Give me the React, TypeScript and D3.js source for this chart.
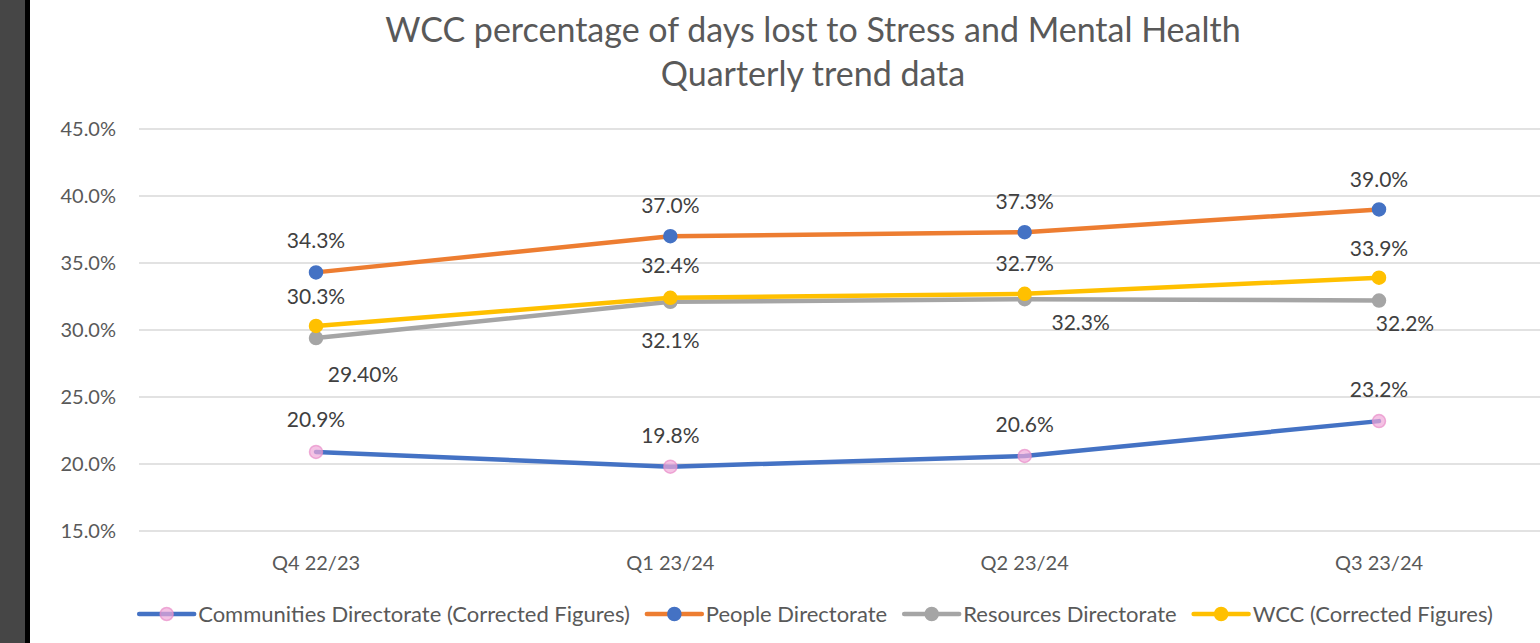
import { useEffect, useRef } from 'react'
import * as d3 from 'd3'

const quarters = ['Q4 22/23', 'Q1 23/24', 'Q2 23/24', 'Q3 23/24']
const communities = [20.9, 19.8, 20.6, 23.2]
const people = [34.3, 37.0, 37.3, 39.0]
const resources = [29.4, 32.1, 32.3, 32.2]
const wcc = [30.3, 32.4, 32.7, 33.9]
const resourcesLabels = ['29.40%', '32.1%', '32.3%', '32.2%']
const yTicks = [15, 20, 25, 30, 35, 40, 45]

const FONT = 'Lato, "Open Sans", sans-serif'

type Series = {
  name: string
  values: number[]
  labels: string[]
  line: string
  marker: string
  markerStroke: string
  markerOpacity: number
  // label offsets relative to the point (dx, dy)
  offsets: [number, number][]
}

export default function App() {
  const ref = useRef<SVGSVGElement>(null)

  useEffect(() => {
    const W = 1540
    const H = 643
    const svg = d3.select(ref.current)
    svg.selectAll('*').remove()

    svg.append('rect').attr('width', W).attr('height', H).attr('fill', '#fff')
    svg.append('rect').attr('width', 25).attr('height', H).attr('fill', '#464646')
    svg.append('rect').attr('x', 25).attr('width', 5).attr('height', H).attr('fill', '#000')

    const x = d3.scalePoint<string>()
      .domain(quarters)
      .range([316, 1379])
    const left = 139
    const right = 1560

    const y = d3.scaleLinear().domain([15, 45]).range([531, 129])

    // title
    const title = svg.append('text')
      .attr('text-anchor', 'middle')
      .attr('fill', '#595959')
      .style('font-family', FONT)
      .style('font-size', '34px')
    title.append('tspan').attr('x', 813).attr('y', 42).text('WCC percentage of days lost to Stress and Mental Health')
    title.append('tspan').attr('x', 813).attr('y', 86).text('Quarterly trend data')

    // gridlines and y labels
    svg.append('g').selectAll('line').data(yTicks).enter().append('line')
      .attr('x1', left).attr('x2', right)
      .attr('y1', d => y(d)).attr('y2', d => y(d))
      .attr('stroke', '#d9d9d9').attr('stroke-width', 1.5)

    svg.append('g').selectAll('text').data(yTicks).enter().append('text')
      .attr('x', 116).attr('y', d => y(d))
      .attr('dy', '0.35em')
      .attr('text-anchor', 'end')
      .attr('fill', '#595959')
      .style('font-family', FONT)
      .style('font-size', '20px')
      .text(d => d3.format('.1f')(d) + '%')

    svg.append('g').selectAll('text').data(quarters).enter().append('text')
      .attr('x', d => x(d)!).attr('y', 563)
      .attr('dy', '0.35em')
      .attr('text-anchor', 'middle')
      .attr('fill', '#595959')
      .style('font-family', FONT)
      .style('font-size', '20px')
      .text(d => d)

    const series: Series[] = [
      {
        name: 'Communities Directorate (Corrected Figures)', values: communities,
        labels: communities.map(v => v.toFixed(1) + '%'),
        line: '#4472C4', marker: '#f0a8d8', markerStroke: '#e88cc8', markerOpacity: 0.7,
        offsets: [[0, -32], [0, -31], [0, -31], [0, -31]],
      },
      {
        name: 'People Directorate', values: people,
        labels: people.map(v => v.toFixed(1) + '%'),
        line: '#ED7D31', marker: '#4472C4', markerStroke: '#4472C4', markerOpacity: 1,
        offsets: [[0, -32], [0, -31], [0, -31], [0, -30]],
      },
      {
        name: 'Resources Directorate', values: resources,
        labels: resourcesLabels,
        line: '#A5A5A5', marker: '#A5A5A5', markerStroke: '#A5A5A5', markerOpacity: 1,
        offsets: [[47, 37], [0, 39], [56, 23], [26, 23]],
      },
      {
        name: 'WCC (Corrected Figures)', values: wcc,
        labels: wcc.map(v => v.toFixed(1) + '%'),
        line: '#FFC000', marker: '#FFC000', markerStroke: '#FFC000', markerOpacity: 1,
        offsets: [[0, -29], [0, -32], [0, -30], [0, -29]],
      },
    ]

    const line = d3.line<number>()
      .x((_, i) => x(quarters[i])!)
      .y(d => y(d))

    series.forEach(s => {
      svg.append('path')
        .datum(s.values)
        .attr('d', line)
        .attr('fill', 'none')
        .attr('stroke', s.line)
        .attr('stroke-width', 4.5)
        .attr('stroke-linejoin', 'round')
        .attr('stroke-linecap', 'round')

      svg.append('g').selectAll('circle').data(s.values).enter().append('circle')
        .attr('cx', (_, i) => x(quarters[i])!)
        .attr('cy', d => y(d))
        .attr('r', 6.5)
        .attr('fill', s.marker)
        .attr('fill-opacity', s.markerOpacity)
        .attr('stroke', s.markerStroke)
        .attr('stroke-opacity', s.markerOpacity)
        .attr('stroke-width', 1.5)
    })

    // data labels on top
    series.forEach(s => {
      svg.append('g').selectAll('text').data(s.values).enter().append('text')
        .attr('x', (_, i) => x(quarters[i])! + s.offsets[i][0])
        .attr('y', (d, i) => y(d) + s.offsets[i][1])
        .attr('dy', '0.35em')
        .attr('text-anchor', 'middle')
        .attr('fill', '#404040')
        .style('font-family', FONT)
        .style('font-size', '21px')
        .text((_, i) => s.labels[i])
    })

    // legend
    const legend = svg.append('g')
    let cx = 0
    const ly = 614
    series.forEach((s, i) => {
      const g = legend.append('g').attr('transform', `translate(${cx},0)`)
      g.append('line')
        .attr('x1', 0).attr('x2', 55).attr('y1', ly).attr('y2', ly)
        .attr('stroke', s.line).attr('stroke-width', 4.5).attr('stroke-linecap', 'round')
      g.append('circle')
        .attr('cx', 27.5).attr('cy', ly).attr('r', 6.5)
        .attr('fill', s.marker).attr('fill-opacity', s.markerOpacity)
        .attr('stroke', s.markerStroke).attr('stroke-opacity', s.markerOpacity)
        .attr('stroke-width', 1.5)
      const t = g.append('text')
        .attr('x', 59).attr('y', ly).attr('dy', '0.35em')
        .attr('fill', '#595959')
        .style('font-family', FONT)
        .style('font-size', '22px')
        .text(s.name)
      const w = (t.node() as SVGTextElement).getComputedTextLength()
      cx += 59 + w + (i < series.length - 1 ? 17 : 0)
    })
    const legendCenter = 816
    legend.attr('transform', `translate(${legendCenter - cx / 2},0)`)
  }, [])

  return (
    <svg
      ref={ref}
      width={1540}
      height={643}
      style={{ position: 'absolute', left: 0, top: 0, display: 'block' }}
    />
  )
}
